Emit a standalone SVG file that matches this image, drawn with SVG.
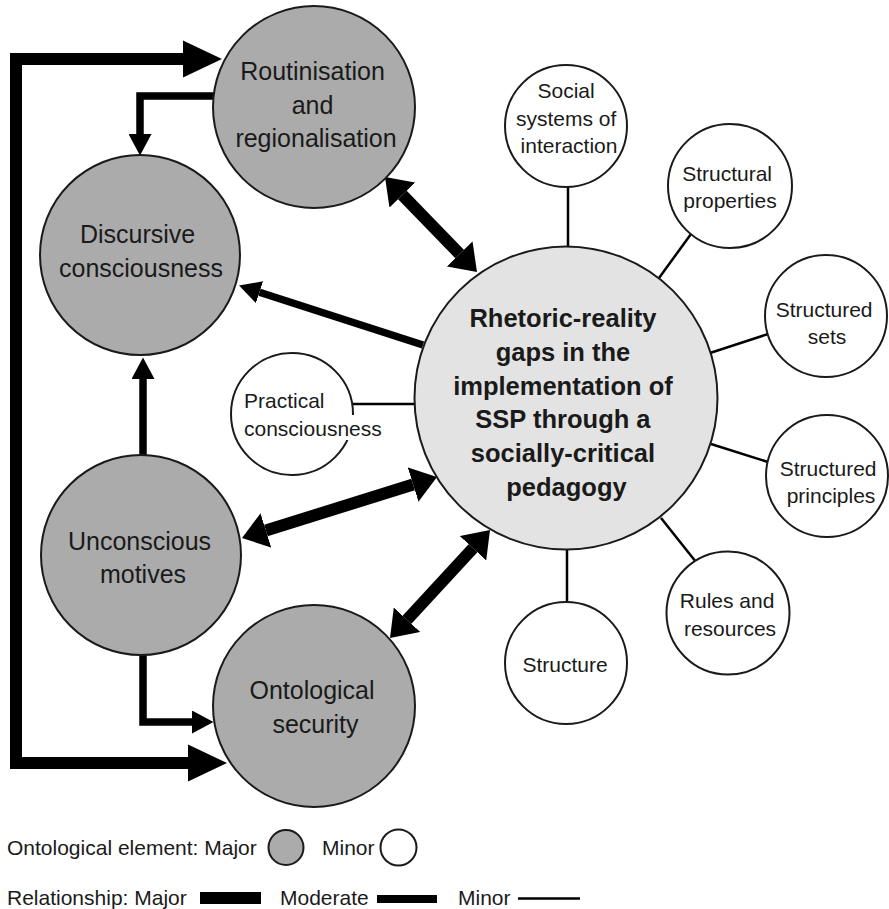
<svg xmlns="http://www.w3.org/2000/svg" width="889" height="909" viewBox="0 0 889 909">
  <defs>
    <style>
      text { font-family: "Liberation Sans", Arial, sans-serif; fill: #1a1a1a; }
      .maj { font-size: 25px; text-anchor: middle; }
      .min { font-size: 21px; text-anchor: middle; }
      .core { font-size: 25.5px; font-weight: bold; text-anchor: middle; }
      .leg { font-size: 21px; }
      .major-node { fill: #ababab; stroke: #1a1a1a; stroke-width: 2; }
      .minor-node { fill: #ffffff; stroke: #1a1a1a; stroke-width: 2; }
      .core-node { fill: #e3e3e3; stroke: #1a1a1a; stroke-width: 2; }
      .rel-major { fill: none; stroke: #000; stroke-width: 12; stroke-linejoin: miter; }
      .rel-moderate { fill: none; stroke: #000; stroke-width: 7.5; stroke-linejoin: miter; }
      .rel-minor { fill: none; stroke: #000; stroke-width: 2.5; }
    </style>
    <!-- arrowheads: path ends at the head's base, the head extends forward -->
    <marker id="loopHead" markerUnits="userSpaceOnUse" viewBox="0 -19 40 38" refX="0" refY="0" markerWidth="40" markerHeight="38" orient="auto-start-reverse">
      <path d="M0,-18.5 L39,0 L0,18.5 z" fill="#000"/>
    </marker>
    <marker id="majHead" markerUnits="userSpaceOnUse" viewBox="0 -18 26 36" refX="0" refY="0" markerWidth="26" markerHeight="36" orient="auto-start-reverse">
      <path d="M0,-18 L25,0 L0,18 z" fill="#000"/>
    </marker>
    <marker id="modHead" markerUnits="userSpaceOnUse" viewBox="0 -11.5 22 23" refX="0" refY="0" markerWidth="22" markerHeight="23" orient="auto-start-reverse">
      <path d="M0,-11.5 L21.5,0 L0,11.5 z" fill="#000"/>
    </marker>
  </defs>

  <rect width="889" height="909" fill="#ffffff"/>

  <g id="connectors">
    <!-- outer loop: Ontological security / Routinisation -->
    <path class="rel-major" d="M188,763 H16 V59 H183" marker-start="url(#loopHead)" marker-end="url(#loopHead)"/>
    <!-- moderate relationships -->
    <path class="rel-moderate" d="M214,96 H140 V134" marker-end="url(#modHead)"/>
    <path class="rel-moderate" d="M143,455 V379" marker-end="url(#modHead)"/>
    <path class="rel-moderate" d="M143,654 V722 H192" marker-end="url(#modHead)"/>
    <path class="rel-moderate" d="M423,345 L259.5,292.2" marker-end="url(#modHead)"/>
    <!-- major two-way relationships with the core -->
    <path class="rel-major" d="M402.4,195 L459.6,254" marker-start="url(#majHead)" marker-end="url(#majHead)"/>
    <path class="rel-major" d="M265.9,530.5 L413.1,484.5" marker-start="url(#majHead)" marker-end="url(#majHead)"/>
    <path class="rel-major" d="M407,619.7 L473,548.3" marker-start="url(#majHead)" marker-end="url(#majHead)"/>
    <!-- minor spokes -->
    <line class="rel-minor" x1="568" y1="187" x2="568" y2="248"/>
    <line class="rel-minor" x1="691" y1="234" x2="659" y2="278"/>
    <line class="rel-minor" x1="768" y1="334" x2="710" y2="353"/>
    <line class="rel-minor" x1="768" y1="462" x2="711" y2="444"/>
    <line class="rel-minor" x1="696" y1="562" x2="661" y2="518"/>
    <line class="rel-minor" x1="567" y1="603" x2="567" y2="549"/>
    <line class="rel-minor" x1="352" y1="404" x2="416" y2="404"/>
  </g>

  <g id="core">
    <circle class="core-node" cx="566" cy="398" r="151.5"/>
    <text class="core">
      <tspan x="566.5" y="327">Rhetoric-reality</tspan>
      <tspan x="566.5" y="361">gaps in the</tspan>
      <tspan x="566.5" y="394.5">implementation of</tspan>
      <tspan x="566.5" y="428">SSP through a</tspan>
      <tspan x="566.5" y="462">socially-critical</tspan>
      <tspan x="566.5" y="496">pedagogy</tspan>
    </text>
  </g>

  <g id="routinisation">
    <circle class="major-node" cx="314" cy="107" r="101"/>
    <text class="maj">
      <tspan x="316" y="80">Routinisation</tspan>
      <tspan x="316" y="113.5">and</tspan>
      <tspan x="316" y="147">regionalisation</tspan>
    </text>
  </g>

  <g id="discursive">
    <circle class="major-node" cx="140" cy="255" r="100"/>
    <text class="maj">
      <tspan x="141" y="243">Discursive</tspan>
      <tspan x="141" y="277">consciousness</tspan>
    </text>
  </g>

  <g id="unconscious">
    <circle class="major-node" cx="141" cy="555" r="100"/>
    <text class="maj">
      <tspan x="143" y="550">Unconscious</tspan>
      <tspan x="143" y="583">motives</tspan>
    </text>
  </g>

  <g id="ontological">
    <circle class="major-node" cx="314" cy="706" r="101"/>
    <text class="maj">
      <tspan x="315.5" y="699">Ontological</tspan>
      <tspan x="315.5" y="733">security</tspan>
    </text>
  </g>

  <g id="social-systems">
    <circle class="minor-node" cx="566" cy="126" r="61"/>
    <text class="min">
      <tspan x="569" y="98">Social</tspan>
      <tspan x="569" y="126">systems of</tspan>
      <tspan x="569" y="153">interaction</tspan>
    </text>
  </g>

  <g id="structural-properties">
    <circle class="minor-node" cx="730" cy="186" r="62"/>
    <text class="min">
      <tspan x="730" y="181">Structural</tspan>
      <tspan x="730" y="208">properties</tspan>
    </text>
  </g>

  <g id="structured-sets">
    <circle class="minor-node" cx="826" cy="316" r="61"/>
    <text class="min">
      <tspan x="827" y="317">Structured</tspan>
      <tspan x="827" y="344">sets</tspan>
    </text>
  </g>

  <g id="structured-principles">
    <circle class="minor-node" cx="827" cy="476" r="61"/>
    <text class="min">
      <tspan x="831" y="476">Structured</tspan>
      <tspan x="831" y="503">principles</tspan>
    </text>
  </g>

  <g id="rules-resources">
    <circle class="minor-node" cx="728" cy="613" r="61.5"/>
    <text class="min">
      <tspan x="730" y="608">Rules and</tspan>
      <tspan x="730" y="636">resources</tspan>
    </text>
  </g>

  <g id="structure">
    <circle class="minor-node" cx="566" cy="663" r="61"/>
    <text class="min" x="565" y="672">Structure</text>
  </g>

  <g id="practical-consciousness">
    <circle class="minor-node" cx="292" cy="414" r="61"/>
    <!-- label backing breaks the outline where the second line runs past it -->
    <rect x="300" y="415" width="86" height="25" fill="#ffffff"/>
    <text class="min" style="text-anchor:start">
      <tspan x="244" y="408">Practical</tspan>
      <tspan x="244" y="436">consciousness</tspan>
    </text>
  </g>

  <g id="legend">
    <text class="leg" x="7" y="855">Ontological element: Major</text>
    <ellipse class="major-node" cx="286" cy="847.5" rx="17.5" ry="17.5"/>
    <text class="leg" x="322" y="855">Minor</text>
    <circle class="minor-node" cx="398.5" cy="847.5" r="18"/>
    <text class="leg" x="7" y="905">Relationship: Major</text>
    <rect x="200" y="892" width="61" height="12" fill="#000"/>
    <text class="leg" x="280" y="905">Moderate</text>
    <rect x="377" y="895" width="60" height="8" fill="#000"/>
    <text class="leg" x="458" y="905">Minor</text>
    <line x1="518" y1="898.5" x2="580" y2="898.5" stroke="#000" stroke-width="2.5"/>
  </g>
</svg>
